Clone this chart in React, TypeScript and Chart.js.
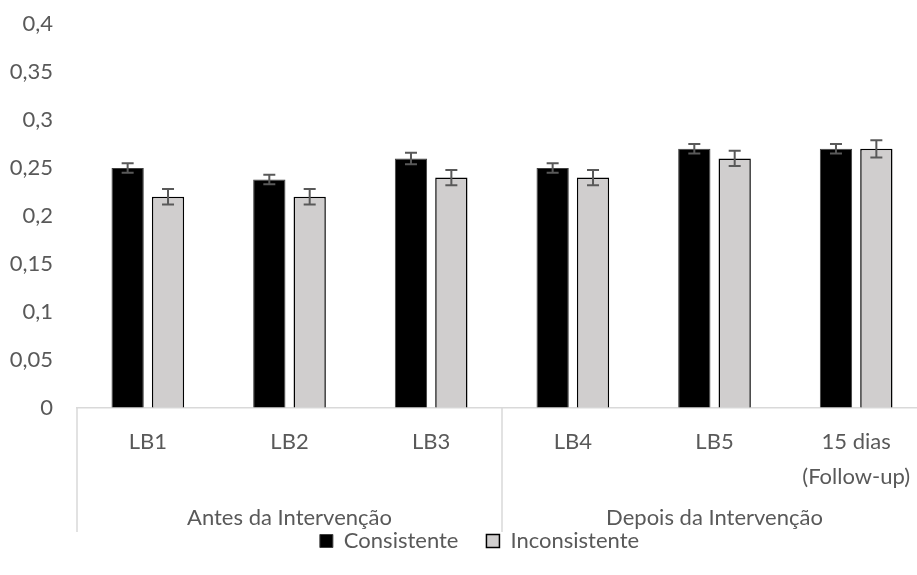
import React, { useEffect, useRef } from "react";
import { Chart, registerables } from "chart.js";

Chart.register(...registerables);

const categories: (string | string[])[] = ["LB1", "LB2", "LB3", "LB4", "LB5", ["15 dias", "(Follow-up)"]];
const groupLabels = ["Antes da Intervenção", "Depois da Intervenção"];
const groupSizes = [3, 3];
const seriesNames = ["Consistente", "Inconsistente"];
const consistente = [0.25, 0.238, 0.26, 0.25, 0.27, 0.27];
const inconsistente = [0.22, 0.22, 0.24, 0.24, 0.26, 0.27];
const errConsistente = [0.005, 0.005, 0.006, 0.005, 0.005, 0.005];
const errInconsistente = [0.008, 0.008, 0.008, 0.008, 0.008, 0.009];
const yTicks = [0, 0.05, 0.1, 0.15, 0.2, 0.25, 0.3, 0.35, 0.4];

const FONT = "Lato, 'Open Sans', sans-serif";
const FS = 22;
const TEXT = "#595959";

const errorBarPlugin = {
  id: "errorBars",
  afterDatasetsDraw(chart: any) {
    const ctx = chart.ctx;
    const yScale = chart.scales.y;
    const errs = [errConsistente, errInconsistente];
    chart.data.datasets.forEach((ds: any, di: number) => {
      const meta = chart.getDatasetMeta(di);
      meta.data.forEach((bar: any, i: number) => {
        const v = ds.data[i];
        const e = errs[di][i];
        const x = bar.x;
        const yTop = yScale.getPixelForValue(v + e);
        const yBot = yScale.getPixelForValue(v - e);
        ctx.save();
        ctx.strokeStyle = "#595959";
        ctx.lineWidth = 2;
        ctx.beginPath();
        ctx.moveTo(x, yTop);
        ctx.lineTo(x, yBot);
        ctx.moveTo(x - 6, yTop);
        ctx.lineTo(x + 6, yTop);
        ctx.moveTo(x - 6, yBot);
        ctx.lineTo(x + 6, yBot);
        ctx.stroke();
        ctx.restore();
      });
    });
  },
};

const groupAxisPlugin = {
  id: "groupAxis",
  afterLayout(chart: any) {
    const lg = chart.legend;
    if (lg) {
      lg.left += 16;
      lg.right += 16;
    }
  },
  afterDraw(chart: any) {
    const ctx = chart.ctx;
    const xs = chart.scales.x;
    const area = chart.chartArea;
    const half = (xs.getPixelForValue(1) - xs.getPixelForValue(0)) / 2;
    const bottom = area.bottom;
    const lineEnd = bottom + 124;
    const labelY = bottom + 110;
    let start = 0;
    const bounds: number[] = [xs.getPixelForValue(0) - half];
    groupSizes.forEach((n) => {
      bounds.push(xs.getPixelForValue(start + n - 1) + half);
      start += n;
    });
    ctx.save();
    ctx.strokeStyle = "#d9d9d9";
    ctx.lineWidth = 1.5;
    bounds.forEach((bx) => {
      ctx.beginPath();
      ctx.moveTo(bx, bottom);
      ctx.lineTo(bx, lineEnd);
      ctx.stroke();
    });
    ctx.fillStyle = TEXT;
    ctx.font = `${FS}px ${FONT}`;
    ctx.textAlign = "center";
    ctx.textBaseline = "middle";
    groupLabels.forEach((g, gi) => {
      ctx.fillText(g, (bounds[gi] + bounds[gi + 1]) / 2, labelY);
    });
    ctx.restore();
  },
};

export default function App() {
  const ref = useRef<HTMLCanvasElement>(null);
  useEffect(() => {
    if (!ref.current) return;
    const chart = new Chart(ref.current, {
      type: "bar",
      data: {
        labels: categories as any,
        datasets: [
          {
            label: seriesNames[0],
            data: consistente,
            backgroundColor: "#000000",
            borderColor: "#3f3f3f",
            borderWidth: 1,
            categoryPercentage: 0.57,
            barPercentage: 0.8,
          },
          {
            label: seriesNames[1],
            data: inconsistente,
            backgroundColor: "#d0cece",
            borderColor: "#000000",
            borderWidth: 1.5,
            categoryPercentage: 0.57,
            barPercentage: 0.8,
          },
        ],
      },
      options: {
        responsive: false,
        animation: false,
        devicePixelRatio: 1,
        layout: { padding: { top: 24, right: 31, left: 0, bottom: 13 } },
        plugins: {
          tooltip: { enabled: false },
          legend: {
            position: "bottom",
            labels: {
              boxWidth: 13,
              boxHeight: 13,
              padding: 28,
              color: TEXT,
              font: { family: FONT, size: FS },
            },
          },
        },
        scales: {
          x: {
            grid: { display: false, drawTicks: false },
            border: { display: true, color: "#d9d9d9", width: 1.5 },
            ticks: {
              color: TEXT,
              font: { family: FONT, size: FS, lineHeight: 35 / FS },
              padding: 16,
              maxRotation: 0,
              autoSkip: false,
            },
            afterFit: (s: any) => {
              s.height = 94;
            },
          },
          y: {
            min: 0,
            max: 0.4,
            grid: {
              display: true,
              drawOnChartArea: false,
              drawTicks: true,
              tickLength: 24,
              tickColor: "rgba(0,0,0,0)",
            },
            border: { display: false },
            afterBuildTicks: (s: any) => {
              s.ticks = yTicks.map((v) => ({ value: v }));
            },
            ticks: {
              color: TEXT,
              font: { family: FONT, size: FS },
              padding: 0,
              callback: (v: any) => String(Number(Number(v).toFixed(2))).replace(".", ","),
            },
            afterFit: (s: any) => {
              s.width = 77;
            },
          },
        },
      },
      plugins: [errorBarPlugin, groupAxisPlugin],
    });
    return () => chart.destroy();
  }, []);
  return (
    <div style={{ position: "fixed", left: 0, top: 0, width: 917, height: 575, overflow: "hidden", background: "#fff" }}>
      <canvas ref={ref} width={958} height={575} style={{ display: "block" }} />
    </div>
  );
}
